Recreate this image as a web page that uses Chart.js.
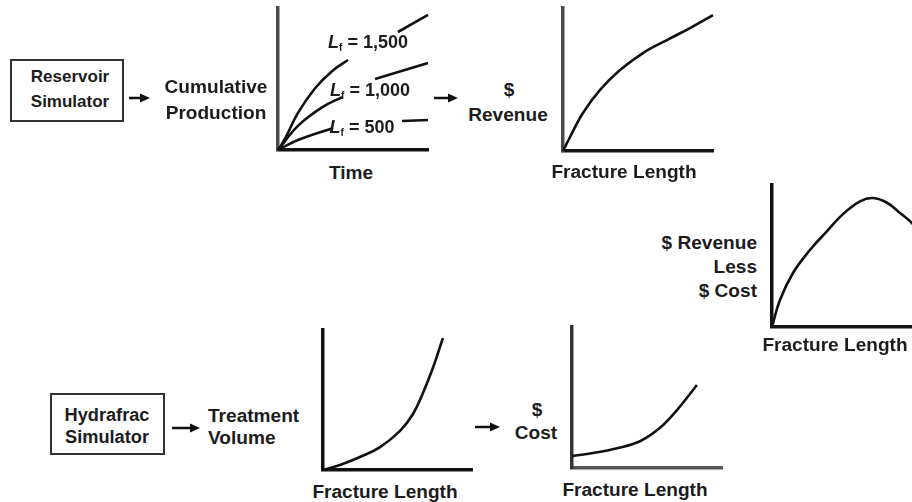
<!DOCTYPE html>
<html><head><meta charset="utf-8">
<script src="https://cdn.jsdelivr.net/npm/chart.js@4"></script>
<style>
html,body{margin:0;padding:0;background:#fff;width:912px;height:502px;overflow:hidden;position:relative;font-family:"Liberation Sans",Arial,sans-serif;}
.t{position:absolute;font-weight:bold;font-size:18px;color:#1c1c1c;white-space:nowrap;line-height:1;}
.box{position:absolute;border:2.5px solid #333;box-sizing:border-box;}
canvas{position:absolute;}
sub{font-size:10px;vertical-align:-3px;}
</style></head><body>
<div class="box" style="left:10px;top:59px;width:114px;height:63px"></div>
<div class="box" style="left:50px;top:393px;width:115px;height:62px"></div>
<svg id="arrows" width="912" height="502" style="position:absolute;left:0;top:0"></svg>
<div id="wrap"></div>
<script>
// ---- data ----
const prodX1500 = [0, 0.47, 1.33, 2.47, 3.6, 4.67, 6.5, 8.0, 10];
const prodY1500 = [0, 0.80, 2.61, 4.35, 5.55, 6.34, null, 8.31, 9.51];
const prodX1000 = [0, 1.33, 2.93, 4.27, 5.4, 6.47, 10];
const prodY1000 = [0, 1.70, 3.00, 3.73, null, 5.00, 6.13];
const prodX500 = [0, 1.33, 3.67, 6.0, 8.27, 10];
const prodY500 = [0, 0.70, 1.55, null, 2.04, 2.11];
const fracLenRev = [0, 0.47, 1.33, 2.47, 3.8, 5.33, 6.93, 8.47, 10];
const revenue = [0, 0.98, 2.66, 4.27, 5.66, 6.85, 7.76, 8.6, 9.5];
const fracLenNet = [0, 0.53, 1.4, 2.53, 3.67, 4.73, 5.87, 6.73, 7.67, 8.53, 9.33, 10];
const netRevenue = [0, 1.90, 3.80, 5.42, 6.75, 7.95, 8.85, 9.08, 8.75, 8.03, 7.32, 6.48];
const fracLenVol = [0, 1.14, 2.48, 3.83, 5.17, 6.04, 6.71, 7.38, 8.05];
const treatVolume = [0, 0.36, 0.93, 1.64, 2.80, 4.00, 5.50, 7.30, 9.43];
const fracLenCost = [0, 1.4, 3.0, 4.53, 5.87, 7.0, 8.33];
const cost = [0.85, 1.06, 1.40, 1.90, 2.85, 4.11, 5.89];
const curveLabels = ['1,500', '1,000', '500'];

function pts(xs, ys){ return xs.map((x,i)=>({x:x, y:ys[i]})); }

function plot(left, top, w, h, series, yCol, xCol){
  const p = 12;
  const cv = document.createElement('canvas');
  cv.width = w + 2*p; cv.height = h + 2*p;
  cv.style.left = (left - p) + 'px'; cv.style.top = (top - p) + 'px';
  cv.style.width = cv.width + 'px'; cv.style.height = cv.height + 'px';
  document.getElementById('wrap').appendChild(cv);
  new Chart(cv, {
    type: 'line',
    data: { datasets: series.map(s => ({
      data: s, borderColor: '#111', borderWidth: 2.6, pointRadius: 0,
      tension: 0.4, spanGaps: false, clip: false, fill: false
    })) },
    options: {
      responsive: false, animation: false, devicePixelRatio: 1,
      layout: { padding: p },
      plugins: { legend: { display: false }, tooltip: { enabled: false } },
      scales: {
        x: { type: 'linear', min: 0, max: 10, ticks: { display: false },
             grid: { display: false, drawTicks: false },
             border: { display: true, color: xCol, width: 3.5 } },
        y: { type: 'linear', min: 0, max: 10, ticks: { display: false },
             grid: { display: false, drawTicks: false },
             border: { display: true, color: yCol, width: 3.5 } }
      }
    }
  });
}

plot(278, 8, 150, 142, [pts(prodX1500, prodY1500), pts(prodX1000, prodY1000), pts(prodX500, prodY500)], '#4a4a4a', '#111');
plot(563, 8, 150, 143, [pts(fracLenRev, revenue)], '#4a4a4a', '#111');
plot(772, 185, 150, 142, [pts(fracLenNet, netRevenue)], '#111', '#111');
plot(323, 330, 149, 140, [pts(fracLenVol, treatVolume)], '#111', '#111');
plot(572, 327, 150, 141, [pts(fracLenCost, cost)], '#333', '#555');

// ---- text ----
function label(html, x, y, align, size, sx){
  const d = document.createElement('div');
  d.className = 't'; d.innerHTML = html;
  if (size) d.style.fontSize = size + 'px';
  const s = sx || 1.06;
  const tx = align === 'left' ? '0' : align === 'right' ? '-100%' : '-50%';
  const origin = align === 'left' ? 'left' : align === 'right' ? 'right' : 'center';
  d.style.left = x + 'px'; d.style.top = y + 'px';
  d.style.transformOrigin = origin + ' center';
  d.style.transform = 'translate(' + tx + ',-50%) scaleX(' + s + ')';
  document.body.appendChild(d);
}
label('Reservoir', 70, 76, null, 17, 1);
label('Simulator', 70, 101, null, 17, 1);
label('Cumulative', 216, 87);
label('Production', 216, 113);
label('Time', 351, 173);
label('<i>L</i><sub>f</sub> = ' + curveLabels[0], 368, 43, null, null, 1);
label('<i>L</i><sub>f</sub> = ' + curveLabels[1], 370, 91, null, null, 1);
label('<i>L</i><sub>f</sub> = ' + curveLabels[2], 362, 128, null, null, 1);
label('$', 509, 90);
label('Revenue', 508, 115);
label('Fracture Length', 624, 172);
label('$ Revenue', 757, 243, 'right');
label('Less', 757, 267, 'right');
label('$ Cost', 757, 291, 'right');
label('Fracture Length', 835, 345);
label('Hydrafrac', 107, 416, null, 17.5, 1.04);
label('Simulator', 107, 438, null, 17.5, 1.04);
label('Treatment', 208, 416, 'left');
label('Volume', 208, 438, 'left');
label('Fracture Length', 385, 492);
label('$', 537, 410);
label('Cost', 536, 433);
label('Fracture Length', 635, 490);

// ---- arrows ----
const svg = document.getElementById('arrows');
function arrow(x1, x2, y){
  svg.innerHTML += '<line x1="'+x1+'" y1="'+y+'" x2="'+(x2-7)+'" y2="'+y+'" stroke="#111" stroke-width="2.5"/>' +
    '<polygon points="'+(x2-10)+','+(y-4.5)+' '+x2+','+y+' '+(x2-10)+','+(y+4.5)+'" fill="#111"/>';
}
arrow(129, 150, 98);
arrow(434, 458, 98);
arrow(172, 200, 428);
arrow(475, 500, 427);
</script>
</body></html>
